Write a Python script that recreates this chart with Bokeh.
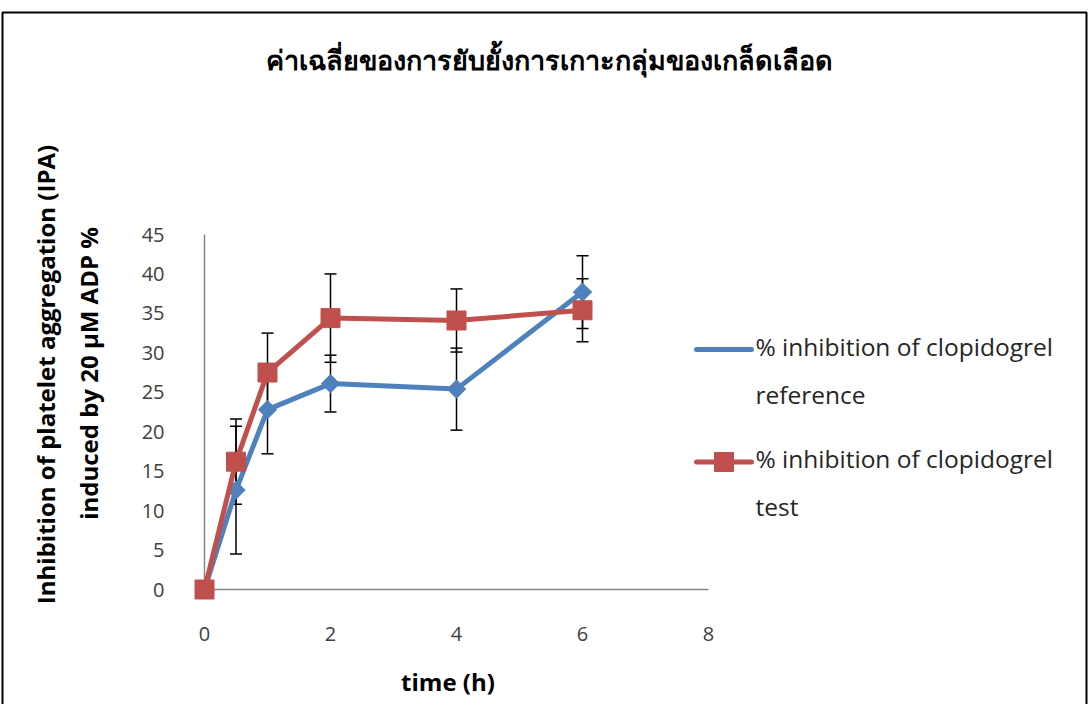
import numpy as np
from bokeh.plotting import figure
from bokeh.models import ColumnDataSource, Whisker, TeeHead, FixedTicker, Range1d
from bokeh.core.properties import value
from bokeh.embed import file_html
from bokeh.resources import INLINE

# ---- data ----
time_h = [0, 0.5, 1, 2, 4, 6]
ref_mean = [0, 12.6, 22.8, 26.1, 25.4, 37.7]
ref_sd = [0, 8.1, 5.6, 3.6, 5.2, 4.6]
test_mean = [0, 16.2, 27.5, 34.4, 34.1, 35.4]
test_sd = [0, 5.4, 5.0, 5.6, 4.0, 4.0]
x_ticks = [0, 2, 4, 6, 8]
y_ticks = [0, 5, 10, 15, 20, 25, 30, 35, 40, 45]
series_label = "% inhibition of clopidogrel"
series_suffix = ["reference", "test"]
title_text = "ค่าเฉลี่ยของการยับยั้งการเกาะกลุ่มของเกล็ดเลือด"
y_title_1 = "Inhibition of platelet aggregation (IPA)"
y_title_2 = "induced by 20 µM ADP %"
x_title = "time (h)"

BLUE = "#4F81BD"
RED = "#C0504D"
FONT = "Open Sans"

# ---- layout: plot frame occupies pixels x 204..708, y 234..589 ----
FL, FR, FT, FB = 204, 708, 234, 589
W, H = 1089, 704
X0, X1, Y0, Y1 = 0, 8, 0, 45


def px_x(px):  # page pixel -> data x (for chart furniture placed outside the frame)
    return X0 + (px - FL) * (X1 - X0) / (FR - FL)


def px_y(py):  # page pixel -> data y
    return Y0 + (FB - py) * (Y1 - Y0) / (FB - FT)


p = figure(width=W, height=H, x_range=Range1d(X0, X1), y_range=Range1d(Y0, Y1),
           output_backend="svg", toolbar_location=None,
           min_border_left=FL, min_border_right=W - FR,
           min_border_top=FT, min_border_bottom=H - FB)
p.outline_line_color = None
p.xgrid.visible = False
p.ygrid.visible = False
p.background_fill_color = "white"
p.border_fill_color = "white"

for ax in (p.xaxis[0], p.yaxis[0]):
    ax.axis_line_color = "#868686"
    ax.axis_line_width = 1.5
    ax.major_tick_line_color = None
    ax.minor_tick_line_color = None
    ax.major_label_text_font = FONT
    ax.major_label_text_font_size = "20px"
    ax.major_label_text_color = "#404040"
p.xaxis.ticker = FixedTicker(ticks=x_ticks)
p.yaxis.ticker = FixedTicker(ticks=y_ticks)
p.xaxis.major_label_standoff = 31
p.yaxis.major_label_standoff = 34


# ---- error bars ----
def whisk(mean, sd):
    src = ColumnDataSource(dict(x=time_h,
                                upper=[m + s for m, s in zip(mean, sd)],
                                lower=[m - s for m, s in zip(mean, sd)]))
    w = Whisker(base="x", upper="upper", lower="lower", source=src,
                line_color="black", line_width=1.5,
                upper_head=TeeHead(size=12, line_color="black", line_width=1.5),
                lower_head=TeeHead(size=12, line_color="black", line_width=1.5))
    p.add_layout(w)


whisk(ref_mean, ref_sd)
whisk(test_mean, test_sd)

# ---- series ----
p.line(time_h, ref_mean, line_color=BLUE, line_width=5, line_join="round", level="overlay")
p.scatter(time_h, ref_mean, marker="square", angle=np.pi / 4, size=13,
          fill_color=BLUE, line_color=BLUE, level="overlay")
p.line(time_h, test_mean, line_color=RED, line_width=5, line_join="round", level="overlay")
p.scatter(time_h, test_mean, marker="square", size=19,
          fill_color=RED, line_color=RED, level="overlay")

# ---- legend (drawn to the right of the plot area) ----
leg_x0, leg_x1, leg_xm = px_x(696), px_x(751), px_x(723.5)
leg_rows = [px_y(349), px_y(461.5)]
p.line([leg_x0, leg_x1], [leg_rows[0]] * 2, line_color=BLUE, line_width=5,
       line_cap="round", level="overlay")
p.scatter([leg_xm], [leg_rows[0]], marker="square", angle=np.pi / 4, size=14,
          fill_color=BLUE, line_color=BLUE, level="overlay")
p.line([leg_x0, leg_x1], [leg_rows[1]] * 2, line_color=RED, line_width=5,
       line_cap="round", level="overlay")
p.scatter([leg_xm], [leg_rows[1]], marker="square", size=19,
          fill_color=RED, line_color=RED, level="overlay")
p.text(x=[px_x(755)] * 4,
       y=[px_y(346), px_y(394), px_y(458), px_y(506)],
       text=[series_label, series_suffix[0], series_label, series_suffix[1]],
       text_font=value(FONT), text_font_size=value("24.5px"), text_color="#262626",
       text_align="left", text_baseline="alphabetic", level="overlay")

# ---- titles ----
p.text(x=[px_x(549)], y=[px_y(60)], text=[title_text],
       text_font_size=value("27px"), text_font_style="bold", text_color="black",
       text_align="center", text_baseline="middle", level="overlay")
p.text(x=[px_x(45), px_x(88)], y=[px_y(374), px_y(373)], text=[y_title_1, y_title_2],
       angle=np.pi / 2, text_font=value(FONT), text_font_size=value("24px"),
       text_font_style="bold", text_color="black",
       text_align="center", text_baseline="middle", level="overlay")
p.text(x=[px_x(447.5)], y=[px_y(681)], text=[x_title],
       text_font=value(FONT), text_font_size=value("24px"),
       text_font_style="bold", text_color="black",
       text_align="center", text_baseline="middle", level="overlay")

# ---- outer chart border ----
p.line([px_x(2), px_x(2), px_x(1086), px_x(1086)],
       [px_y(720), px_y(12), px_y(12), px_y(720)],
       line_color="black", line_width=2, level="overlay")

open("out.html", "w").write(file_html(p, INLINE))
